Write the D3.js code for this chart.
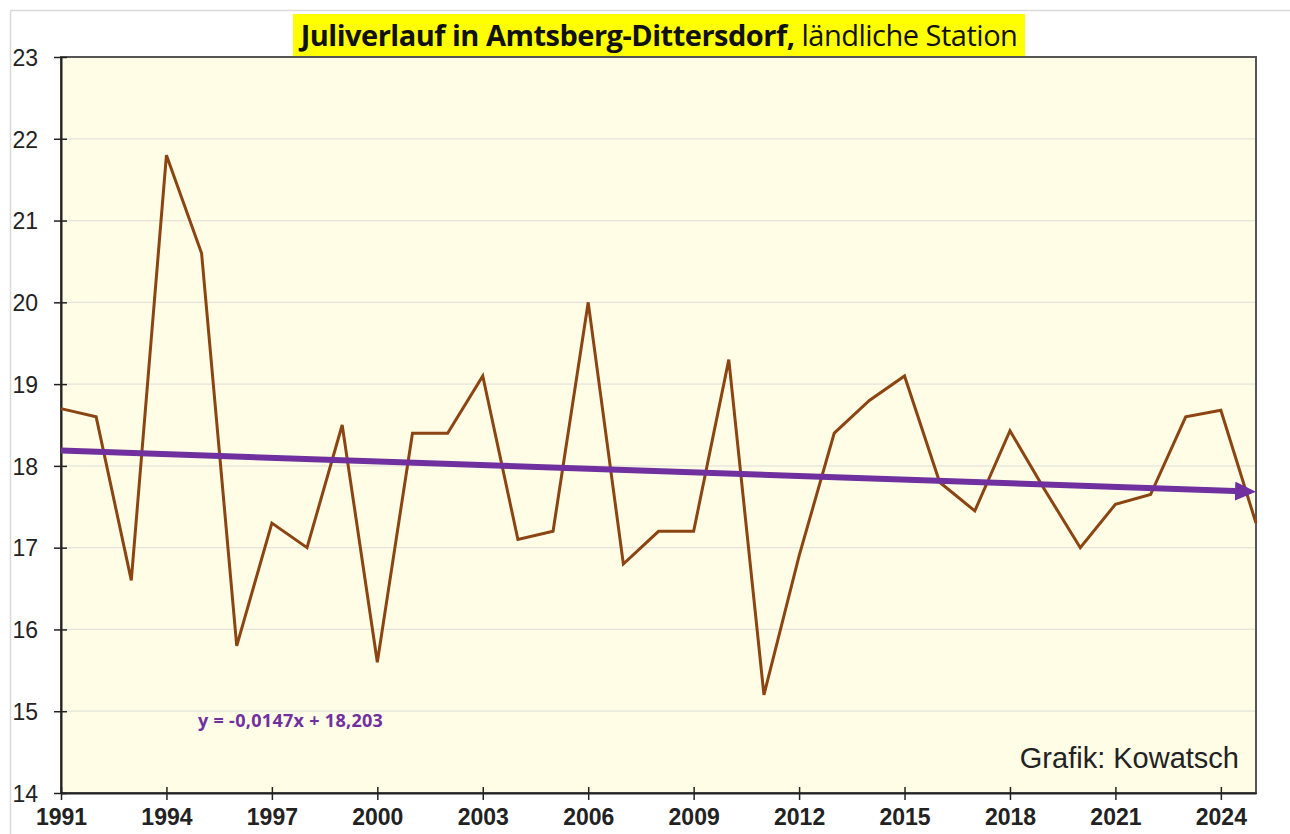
<!DOCTYPE html>
<html>
<head>
<meta charset="utf-8">
<script src="https://cdn.jsdelivr.net/npm/d3@7"></script>
<style>
  body { margin: 0; background: #fff; }
  svg { display: block; }
</style>
</head>
<body>
<div id="chart"></div>
<script>
// data (July mean temperature, °C)
var years = d3.range(1991, 2026);
var temps = [18.7, 18.6, 16.6, 21.8, 20.6, 15.8, 17.3, 17.0, 18.5, 15.6,
             18.4, 18.4, 19.1, 17.1, 17.2, 20.0, 16.8, 17.2, 17.2, 19.3,
             15.2, 16.9, 18.4, 18.8, 19.1, 17.8, 17.45, 18.43, 17.7, 17.0,
             17.53, 17.65, 18.6, 18.68, 17.3];
var xTicks = [1991, 1994, 1997, 2000, 2003, 2006, 2009, 2012, 2015, 2018, 2021, 2024];
var yTicks = [14, 15, 16, 17, 18, 19, 20, 21, 22, 23];
var trendSlope = -0.0147;
var trendIntercept = 18.203;

var width = 1290, height = 834;
var plotLeft = 61, plotRight = 1256, plotTop = 57, plotBottom = 793;

var svg = d3.select('#chart').append('svg')
  .attr('width', width)
  .attr('height', height);

var x = d3.scaleLinear().domain([1991, 2025]).range([plotLeft, plotRight]);
var y = d3.scaleLinear().domain([14, 23]).range([plotBottom, plotTop]);

// slide edges
svg.append('line').attr('x1', 10).attr('x2', 1290).attr('y1', 10.5).attr('y2', 10.5)
  .attr('stroke', '#d9d9d9').attr('stroke-width', 1.5);
svg.append('line').attr('x1', 10.5).attr('x2', 10.5).attr('y1', 10).attr('y2', 834)
  .attr('stroke', '#d9d9d9').attr('stroke-width', 1.5);

// plot background
svg.append('rect')
  .attr('x', plotLeft).attr('y', plotTop)
  .attr('width', plotRight - plotLeft).attr('height', plotBottom - plotTop)
  .attr('fill', '#fffde5');

// gridlines
svg.append('g').selectAll('line')
  .data(yTicks.slice(1, -1))
  .enter().append('line')
  .attr('x1', plotLeft).attr('x2', plotRight)
  .attr('y1', function(d) { return y(d); })
  .attr('y2', function(d) { return y(d); })
  .attr('stroke', '#e4e4dc').attr('stroke-width', 1.2);

// frame
svg.append('rect')
  .attr('x', plotLeft).attr('y', plotTop)
  .attr('width', plotRight - plotLeft).attr('height', plotBottom - plotTop)
  .attr('fill', 'none').attr('stroke', '#555').attr('stroke-width', 2);

// axes
var yAxis = d3.axisLeft(y).tickValues(yTicks).tickSizeInner(7).tickSizeOuter(0);
var yg = svg.append('g').attr('transform', 'translate(' + plotLeft + ',0)').call(yAxis);
yg.select('.domain').attr('stroke', '#222').attr('stroke-width', 2);
yg.selectAll('.tick line').attr('x2', 6).attr('x1', -7).attr('stroke', '#222').attr('stroke-width', 1.5);
yg.selectAll('text')
  .attr('font-family', 'Liberation Sans, Arial, sans-serif')
  .attr('font-size', 23).attr('fill', '#222').attr('dy', '0.36em').attr('x', -23);

var xAxis = d3.axisBottom(x).tickValues(xTicks).tickFormat(d3.format('d')).tickSizeInner(7).tickSizeOuter(0);
var xg = svg.append('g').attr('transform', 'translate(0,' + plotBottom + ')').call(xAxis);
xg.select('.domain').attr('stroke', '#222').attr('stroke-width', 2);
xg.selectAll('.tick line').attr('y1', -6).attr('y2', 7).attr('stroke', '#222').attr('stroke-width', 1.5);
xg.selectAll('text')
  .attr('font-family', 'Liberation Sans, Arial, sans-serif')
  .attr('font-size', 23).attr('font-weight', 'bold').attr('fill', '#222')
  .attr('y', 16).attr('dy', '0.71em');

// data line
var line = d3.line()
  .x(function(d, i) { return x(years[i]); })
  .y(function(d) { return y(d); });

svg.append('path')
  .datum(temps)
  .attr('d', line)
  .attr('fill', 'none')
  .attr('stroke', '#8b4513')
  .attr('stroke-width', 3)
  .attr('stroke-linejoin', 'miter');

// trend line with arrow (tip lands on the right edge)
svg.append('defs').append('marker')
  .attr('id', 'arrow')
  .attr('viewBox', '0 0 21 19')
  .attr('refX', 7).attr('refY', 9.5)
  .attr('markerWidth', 21).attr('markerHeight', 19)
  .attr('markerUnits', 'userSpaceOnUse')
  .attr('orient', 'auto')
  .append('path').attr('d', 'M0,0 L21,9.5 L0,19 z').attr('fill', '#7030a0');

var trend = [1991, 2025].map(function(yr) {
  return { year: yr, v: trendSlope * (yr - 1990) + trendIntercept };
});
svg.append('path')
  .datum(trend)
  .attr('d', d3.line().x(function(d) { return x(d.year) - (d.year === 2025 ? 14 : 0); }).y(function(d) { return y(d.v); }))
  .attr('stroke', '#7030a0')
  .attr('stroke-width', 6)
  .attr('fill', 'none')
  .attr('marker-end', 'url(#arrow)');

// equation
svg.append('text')
  .attr('x', 198).attr('y', 727)
  .attr('font-family', 'Open Sans, sans-serif')
  .attr('font-size', 18).attr('font-weight', 'bold')
  .attr('letter-spacing', 0.3)
  .attr('fill', '#7030a0')
  .text('y = -0,0147x + 18,203');

// credit
svg.append('text')
  .attr('x', 1239).attr('y', 768)
  .attr('text-anchor', 'end')
  .attr('font-family', 'Liberation Sans, Arial, sans-serif')
  .attr('font-size', 29).attr('fill', '#222')
  .text('Grafik: Kowatsch');

// title
svg.append('rect')
  .attr('x', 293).attr('y', 14).attr('width', 732).attr('height', 42)
  .attr('fill', '#ffff00');
var title = svg.append('text')
  .attr('x', 659).attr('y', 46)
  .attr('text-anchor', 'middle')
  .attr('font-family', 'Open Sans, sans-serif')
  .attr('font-size', 29).attr('fill', '#111')
  .attr('letter-spacing', -0.5);
title.append('tspan').attr('font-weight', 'bold').text('Juliverlauf in Amtsberg-Dittersdorf,');
title.append('tspan').text(' ländliche Station');
</script>
</body>
</html>
